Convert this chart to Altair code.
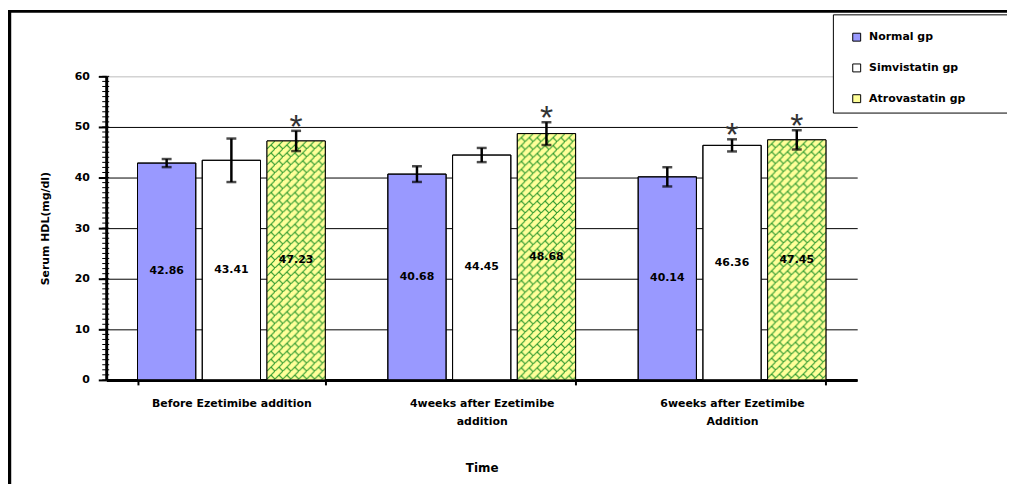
import urllib.parse
import altair as alt
import pandas as pd

groups = ["Before Ezetimibe addition", "4weeks after Ezetimibe addition", "6weeks after Ezetimibe Addition"]
series = ["Normal gp", "Simvistatin gp", "Atrovastatin gp"]
normal_vals = [42.86, 40.68, 40.14]
simva_vals = [43.41, 44.45, 46.36]
atorva_vals = [47.23, 48.68, 47.45]
normal_err = [0.8, 1.55, 1.9]
simva_err = [4.3, 1.4, 1.2]
atorva_err = [2.0, 2.25, 1.9]
normal_sig = [False, False, False]
simva_sig = [False, False, True]
atorva_sig = [True, True, True]
y_major = [0, 10, 20, 30, 40, 50, 60]
y_minor = list(range(0, 61))

rows = []
for s, vals, errs, sigs in [(series[0], normal_vals, normal_err, normal_sig),
                            (series[1], simva_vals, simva_err, simva_sig),
                            (series[2], atorva_vals, atorva_err, atorva_sig)]:
    for g, v, e, sg in zip(groups, vals, errs, sigs):
        rows.append({"group": g, "series": s, "value": v, "err": e, "sig": sg})
df = pd.DataFrame(rows)

FONT = "DejaVu Sans"

hatch_svg = ("<svg xmlns='http://www.w3.org/2000/svg' width='100%' height='100%'>"
             "<defs><pattern id='b' width='8' height='8' patternUnits='userSpaceOnUse'>"
             "<rect width='8' height='8' fill='#FFFF99'/>"
             "<path d='M-1,9 L9,-1 M4,4 L8,8' stroke='#2E9A2E' stroke-width='1.1' fill='none'/>"
             "</pattern></defs><rect width='100%' height='100%' fill='url(#b)'/></svg>")
hatch_uri = "data:image/svg+xml;charset=utf-8," + urllib.parse.quote(hatch_svg)

x_axis = alt.Axis(title="Time", labelAngle=0, tickBand="extent", grid=False,
                  labelExpr="length(datum.label) > 28 ? [slice(datum.label, 0, lastindexof(datum.label, ' ')), slice(datum.label, lastindexof(datum.label, ' ') + 1)] : datum.label",
                  labelFont=FONT, labelFontWeight="bold", labelFontSize=11, labelColor="black",
                  labelLineHeight=18, labelPadding=13, labelBaseline="top",
                  tickSize=5, tickWidth=2, tickColor="black",
                  domainWidth=3, domainColor="black",
                  titleFont=FONT, titleFontWeight="bold", titleFontSize=12, titleColor="black",
                  titlePadding=36)
x_enc = alt.X("group:N", sort=groups,
              scale=alt.Scale(paddingInner=0.25, paddingOuter=0.125), axis=x_axis)
xo_enc = alt.XOffset("series:N", sort=series, scale=alt.Scale(paddingInner=0.1, paddingOuter=0))

y_axis = alt.Axis(title="Serum HDL(mg/dl)", values=y_major, labelOverlap=False,
                  tickSize=8, tickWidth=2, tickColor="black",
                  grid=True,
                  gridColor=alt.condition("datum.value == 60", alt.value("#BBBBBB"), alt.value("black")),
                  gridWidth=1,
                  domainWidth=3, domainColor="black",
                  labelFont=FONT, labelFontWeight="bold", labelFontSize=11, labelColor="black",
                  labelPadding=9,
                  titleFont=FONT, titleFontWeight="bold", titleFontSize=11, titleColor="black",
                  titlePadding=24)
y_scale = alt.Scale(domain=[0, 60])


def Y(field):
    return alt.Y(field, scale=y_scale, axis=y_axis)


base = alt.Chart(df).encode(x=x_enc, xOffset=xo_enc)

bars = base.mark_bar(stroke="black", strokeWidth=1).encode(
    y=Y("value:Q"),
    color=alt.Color("series:N", sort=series,
                    scale=alt.Scale(domain=series, range=["#9999FF", "#FFFFFF", "#FFFF99"]),
                    legend=alt.Legend(title=None, orient="none", legendX=731, legendY=-58,
                                      direction="vertical", padding=13,
                                      symbolType="square", symbolSize=64,
                                      symbolStrokeColor="black", symbolStrokeWidth=1,
                                      symbolOffset=7, labelOffset=7,
                                      labelFont=FONT, labelFontWeight="bold", labelFontSize=11,
                                      labelColor="black", rowPadding=18))
)

hatch = base.transform_filter(alt.datum.series == series[2]).mark_image(aspect=False).encode(
    y=Y("value:Q"), y2=alt.datum(0), url=alt.value(hatch_uri))

outline = base.mark_bar(fillOpacity=0, stroke="black", strokeWidth=1).encode(y=Y("value:Q"))

eb = base.transform_calculate(lo="datum.value - datum.err", hi="datum.value + datum.err")
stems = eb.mark_rule(color="black", strokeWidth=2.5).encode(y=Y("lo:Q"), y2="hi:Q")
cap_lo = eb.mark_tick(color="black", thickness=2.5, size=10).encode(y=Y("lo:Q"))
cap_hi = eb.mark_tick(color="black", thickness=2.5, size=10).encode(y=Y("hi:Q"))

labels = base.transform_calculate(mid="datum.value / 2").mark_text(
    font=FONT, fontWeight="bold", fontSize=11, color="black").encode(
    y=Y("mid:Q"), text=alt.Text("value:Q", format=".2f"))

stars = eb.transform_filter("datum.sig").mark_text(
    text="*", font="Liberation Sans", fontSize=34, color="#333333", baseline="alphabetic", dy=7).encode(y=Y("hi:Q"))

minor = alt.Chart(pd.DataFrame({"t": y_minor})).mark_rule(color="black", strokeWidth=1).encode(
    y=Y("t:Q"), x=alt.value(-4), x2=alt.value(3))

one = alt.Chart(pd.DataFrame({"k": [0]}))
legend_box = one.mark_rect(fill="white", stroke="black", strokeWidth=1).encode(
    x=alt.value(733), x2=alt.value(930), y=alt.value(-62), y2=alt.value(37))
frame_left = one.mark_rule(color="black", strokeWidth=3.5).encode(
    x=alt.value(-97.5), y=alt.value(-67), y2=alt.value(420))
frame_top = one.mark_rule(color="black", strokeWidth=3).encode(
    x=alt.value(-99), x2=alt.value(920), y=alt.value(-65.5))

chart = alt.layer(legend_box, bars, hatch, outline, stems, cap_lo, cap_hi, labels, stars,
                  minor, frame_left, frame_top).properties(
    width=757, height=306,
    padding={"left": 99, "top": 67, "right": 151, "bottom": 103},
    autosize=alt.AutoSizeParams(type="none"),
    background="white",
).configure_view(stroke="transparent", strokeWidth=0)

chart.save("out.html", embed_options={"renderer": "svg", "actions": False})
